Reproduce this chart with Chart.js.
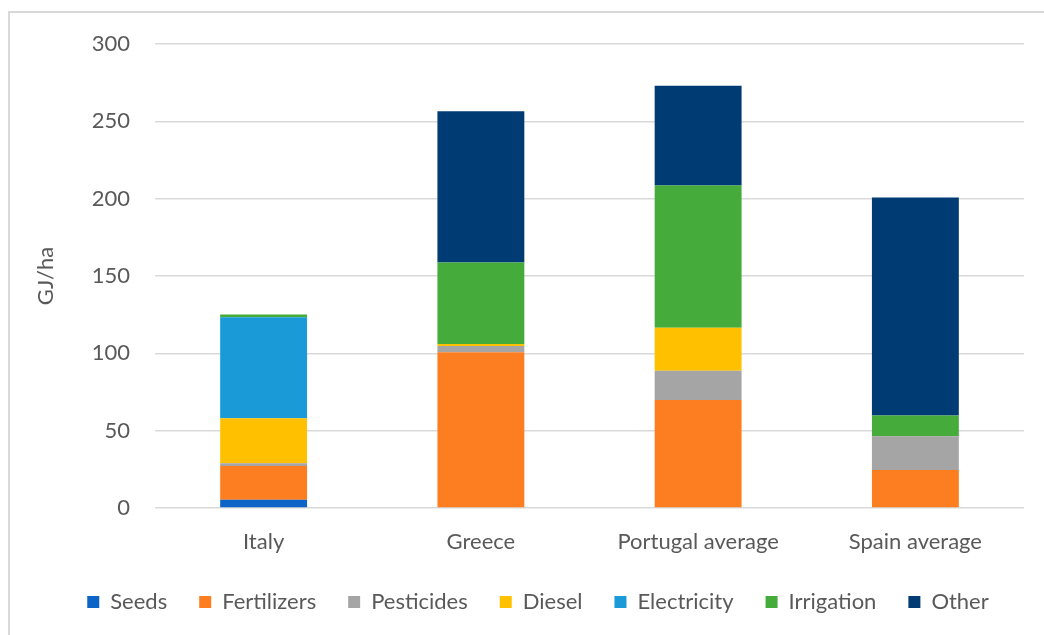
<!DOCTYPE html>
<html>
<head>
<meta charset="utf-8">
<script src="https://cdn.jsdelivr.net/npm/chart.js@4"></script>
<style>
  html, body { margin: 0; padding: 0; background: #fff; }
  #wrap { position: relative; width: 1044px; height: 635px; overflow: hidden; }
  #frame { position: absolute; left: 8px; top: 11px; width: 1060px; height: 660px; border: 2px solid #d9d9d9; box-sizing: border-box; }
  #chart { position: absolute; left: 0; top: 0; }
</style>
</head>
<body>
<div id="wrap">
  <div id="frame"></div>
  <canvas id="chart" width="1044" height="635"></canvas>
</div>
<script>
// Energy input per hectare by country (GJ/ha)
const countries = ['Italy', 'Greece', 'Portugal average', 'Spain average'];

const seeds       = [5.4, 0, 0, 0];
const fertilizers = [21.8, 100.7, 69.8, 24.6];
const pesticides  = [1.8, 4.1, 19.0, 21.8];
const diesel      = [29.1, 1.3, 27.7, 0];
const electricity = [65.2, 0, 0, 0];
const irrigation  = [1.8, 52.7, 92.0, 13.4];
const other       = [0, 97.8, 64.5, 140.9];

const yTicks = [0, 50, 100, 150, 200, 250, 300];

const series = [
    { label: 'Seeds', data: seeds, color: '#0b64c6' },
    { label: 'Fertilizers', data: fertilizers, color: '#fd7e21' },
    { label: 'Pesticides', data: pesticides, color: '#a5a5a5' },
    { label: 'Diesel', data: diesel, color: '#ffc000' },
    { label: 'Electricity', data: electricity, color: '#1a9bd7' },
    { label: 'Irrigation', data: irrigation, color: '#45ab3a' },
    { label: 'Other', data: other, color: '#003b74' }
];

const font = 'Lato, "Open Sans", sans-serif';
const textColor = '#595959';

// legend sits a bit right of the canvas centre, like the original
const legendShift = {
    id: 'legendShift',
    afterLayout(chart) {
        chart.legend.left += 26;
        chart.legend.right += 26;
    }
};

const ctx = document.getElementById('chart').getContext('2d');
new Chart(ctx, {
    type: 'bar',
    data: {
        labels: countries,
        datasets: series.map(s => ({
            label: s.label,
            data: s.data,
            backgroundColor: s.color,
            borderWidth: 0,
            categoryPercentage: 1,
            barPercentage: 0.4
        }))
    },
    options: {
        responsive: false,
        animation: false,
        layout: {
            padding: { top: 44, right: 20, left: 0, bottom: 12 }
        },
        scales: {
            x: {
                stacked: true,
                grid: { display: false },
                border: { display: false },
                ticks: {
                    color: textColor,
                    font: { family: font, size: 22 },
                    padding: 13
                },
                afterFit: scale => { scale.height = 51; }
            },
            y: {
                stacked: true,
                min: 0,
                max: 300,
                afterBuildTicks: scale => {
                    scale.ticks = yTicks.map(v => ({ value: v }));
                },
                grid: {
                    color: '#d9d9d9',
                    lineWidth: 1.5,
                    drawTicks: false
                },
                border: { display: false },
                ticks: {
                    color: textColor,
                    font: { family: font, size: 22 },
                    padding: 25
                },
                title: {
                    display: true,
                    text: 'GJ/ha',
                    color: textColor,
                    font: { family: font, size: 22 },
                    padding: { top: 33, bottom: 0 }
                },
                afterFit: scale => { scale.width = 155; }
            }
        },
        plugins: {
            legend: {
                position: 'bottom',
                labels: {
                    color: textColor,
                    font: { family: font, size: 22 },
                    boxWidth: 12,
                    boxHeight: 12,
                    padding: 32
                }
            },
            tooltip: { enabled: false }
        }
    },
    plugins: [legendShift]
});
</script>
</body>
</html>
